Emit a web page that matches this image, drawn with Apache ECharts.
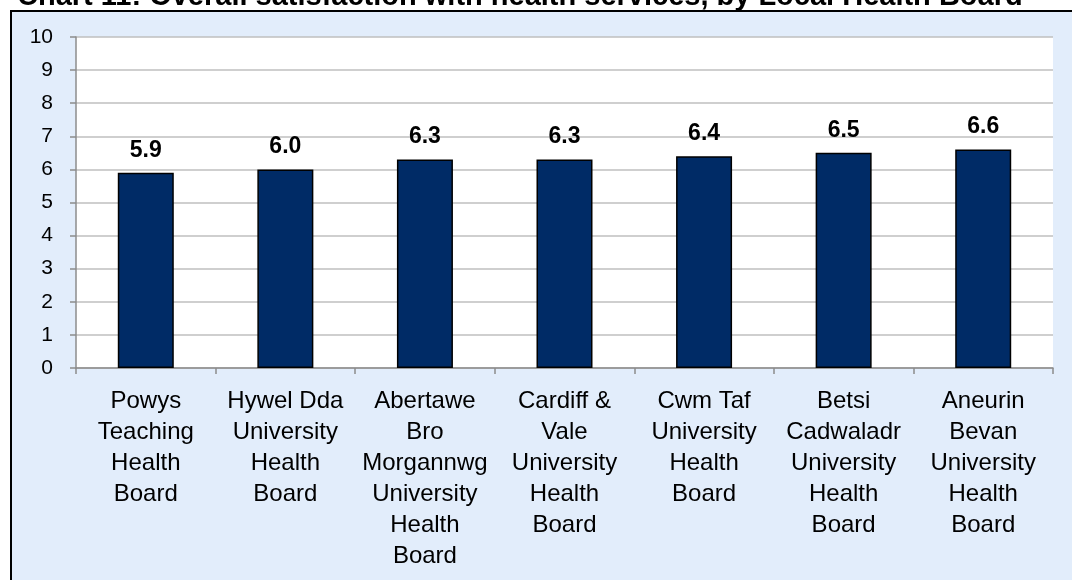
<!DOCTYPE html>
<html>
<head>
<meta charset="utf-8">
<script src="https://cdn.jsdelivr.net/npm/echarts@6/dist/echarts.min.js"></script>
<style>
    html, body { margin: 0; padding: 0; background: #ffffff; }
    #chart { width: 1072px; height: 580px; }
</style>
</head>
<body>
<div id="chart"></div>
<script>
// 数据
const boards = [
    'Powys\nTeaching\nHealth\nBoard',
    'Hywel Dda\nUniversity\nHealth\nBoard',
    'Abertawe\nBro\nMorgannwg\nUniversity\nHealth\nBoard',
    'Cardiff &\nVale\nUniversity\nHealth\nBoard',
    'Cwm Taf\nUniversity\nHealth\nBoard',
    'Betsi\nCadwaladr\nUniversity\nHealth\nBoard',
    'Aneurin\nBevan\nUniversity\nHealth\nBoard'
];
const satisfaction = [5.9, 6.0, 6.3, 6.3, 6.4, 6.5, 6.6];
const yTicks = [0, 1, 2, 3, 4, 5, 6, 7, 8, 9, 10];

const font = 'Liberation Sans, Arial, sans-serif';
const chart = echarts.init(document.getElementById('chart'));

chart.setOption({
    animation: false,
    title: {
        text: 'Chart 11: Overall satisfaction with health services, by Local Health Board',
        left: 12,
        top: -23,
        textStyle: { fontFamily: font, fontSize: 29, fontWeight: 'bold', color: '#000' }
    },
    graphic: [{
        type: 'rect',
        z: -10,
        shape: { x: 11, y: 11, width: 1100, height: 600 },
        style: { fill: '#E2EDFB', stroke: '#000', lineWidth: 2 }
    }],
    grid: {
        left: 76, right: 19, top: 37, bottom: 212,
        show: true, backgroundColor: '#ffffff', borderWidth: 0
    },
    xAxis: {
        type: 'category',
        data: boards,
        axisLine: { lineStyle: { color: '#8c8c8c', width: 1.5 } },
        axisTick: { show: true, length: 6, lineStyle: { color: '#8c8c8c', width: 1.5 } },
        axisLabel: {
            interval: 0, margin: 18, color: '#000',
            fontFamily: font, fontSize: 24, lineHeight: 31, align: 'center'
        }
    },
    yAxis: {
        type: 'value',
        min: yTicks[0],
        max: yTicks[yTicks.length - 1],
        interval: 1,
        axisLine: { show: true, lineStyle: { color: '#8c8c8c', width: 1.5 } },
        axisTick: { show: true, length: 6, lineStyle: { color: '#8c8c8c', width: 1.5 } },
        axisLabel: { margin: 23, color: '#000', fontFamily: font, fontSize: 21 },
        splitLine: { lineStyle: { color: '#bfbfbf', width: 1.5 } }
    },
    series: [{
        type: 'bar',
        data: satisfaction,
        barWidth: 56,
        itemStyle: { color: '#002B66', borderColor: '#000', borderWidth: 1.5 },
        label: {
            show: true,
            position: 'top',
            distance: 11,
            formatter: p => p.value.toFixed(1),
            fontFamily: font,
            fontSize: 23,
            fontWeight: 'bold',
            color: '#000'
        }
    }]
});
</script>
</body>
</html>
